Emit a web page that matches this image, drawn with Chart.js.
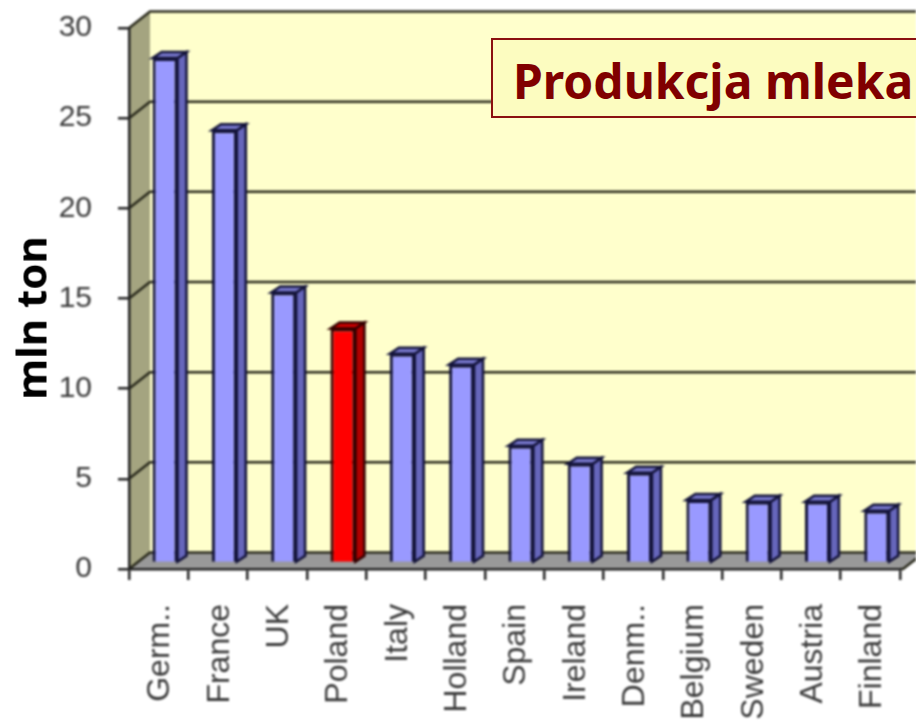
<!DOCTYPE html>
<html>
<head>
<meta charset="utf-8">
<script src="https://cdn.jsdelivr.net/npm/chart.js@4"></script>
<style>
  html, body { margin: 0; padding: 0; background: #fff; width: 916px; height: 721px; overflow: hidden; }
  #milk-chart { position: absolute; left: 0; top: 0; filter: blur(0.8px); }
  #chart-title {
    position: absolute; left: 491px; top: 38px; width: 460px; height: 76px;
    background: #fcfcc0; border: 2px solid #8b1010; color: #800000;
    font: bold 48px "Noto Sans", sans-serif; line-height: 82px; padding-left: 20px;
    white-space: nowrap;
  }
  #axis-title {
    position: absolute; left: 30px; top: 318px; transform: translate(-50%, -50%) rotate(-90deg);
    font: bold 42px "Noto Sans", sans-serif; color: #000; white-space: nowrap;
  }
</style>
</head>
<body>
<canvas id="milk-chart" width="916" height="721"></canvas>
<div id="chart-title">Produkcja mleka</div>
<div id="axis-title">mln ton</div>
<script>
const COUNTRIES = ['Germ..', 'France', 'UK', 'Poland', 'Italy', 'Holland', 'Spain', 'Ireland', 'Denm..', 'Belgium', 'Sweden', 'Austria', 'Finland']
const MILK_MLN_TON = [28, 24, 15, 13, 11.6, 11, 6.5, 5.5, 5, 3.5, 3.4, 3.4, 2.9]
const HIGHLIGHT = 'Poland'

// depth of the fake 3d box and of the bars standing in it
const WALL_DX = 21
const WALL_DY = -16.5
const BAR_SHIFT_X = 6.4
const BAR_SHIFT_Y = -6
const BAR_DX = 9
const BAR_DY = -6

const isHighlight = (idx) => COUNTRIES[idx] === HIGHLIGHT

// labels may overhang the plot here, so the scales must not inset themselves
const noPadding = (scale) => {
  scale.paddingTop = 0
  scale.paddingBottom = 0
  scale.paddingLeft = 0
  scale.paddingRight = 0
}

const box3d = {
  id: 'box3d',
  beforeDraw(chart) {
    const { ctx, chartArea: a, scales: { y } } = chart
    const right = chart.width + 30
    ctx.save()

    // back wall
    ctx.fillStyle = '#ffffcc'
    ctx.fillRect(a.left + WALL_DX, a.top + WALL_DY, right, a.bottom - a.top)

    // left wall
    ctx.fillStyle = '#a4a480'
    ctx.beginPath()
    ctx.moveTo(a.left, a.top)
    ctx.lineTo(a.left + WALL_DX, a.top + WALL_DY)
    ctx.lineTo(a.left + WALL_DX, a.bottom + WALL_DY)
    ctx.lineTo(a.left, a.bottom)
    ctx.closePath()
    ctx.fill()

    // floor
    ctx.fillStyle = '#999999'
    ctx.beginPath()
    ctx.moveTo(a.left, a.bottom)
    ctx.lineTo(a.left + WALL_DX, a.bottom + WALL_DY)
    ctx.lineTo(right, a.bottom + WALL_DY)
    ctx.lineTo(a.right + 3 + WALL_DX, a.bottom + WALL_DY)
    ctx.lineTo(a.right + 3, a.bottom)
    ctx.closePath()
    ctx.fill()

    // grid lines wrap from the axis over the left wall to the back wall
    ctx.strokeStyle = '#2a2a1c'
    ctx.lineWidth = 2.5
    y.ticks.forEach((tick) => {
      const py = y.getPixelForValue(tick.value)
      ctx.beginPath()
      ctx.moveTo(a.left, py)
      ctx.lineTo(a.left + WALL_DX, py + WALL_DY)
      ctx.lineTo(right, py + WALL_DY)
      ctx.stroke()
    })

    // floor front edge continues past the last tick
    ctx.beginPath()
    ctx.moveTo(a.right, a.bottom)
    ctx.lineTo(a.right + 3, a.bottom)
    ctx.lineTo(a.right + 3 + WALL_DX, a.bottom + WALL_DY)
    ctx.stroke()
    ctx.restore()
  },
  beforeDatasetsDraw(chart) {
    const { ctx } = chart
    ctx.save()
    ctx.translate(BAR_SHIFT_X, BAR_SHIFT_Y)
    chart.getDatasetMeta(0).data.forEach((bar, idx) => {
      const left = bar.x - bar.width / 2
      const right = bar.x + bar.width / 2
      const red = isHighlight(idx)
      ctx.lineWidth = 2.5
      ctx.strokeStyle = red ? '#330000' : '#14143a'

      ctx.fillStyle = red ? '#b00000' : '#6666bb'
      ctx.beginPath()
      ctx.moveTo(right, bar.base)
      ctx.lineTo(right + BAR_DX, bar.base + BAR_DY)
      ctx.lineTo(right + BAR_DX, bar.y + BAR_DY)
      ctx.lineTo(right, bar.y)
      ctx.closePath()
      ctx.fill()
      ctx.stroke()

      ctx.fillStyle = red ? '#cc0000' : '#7777cc'
      ctx.beginPath()
      ctx.moveTo(left, bar.y)
      ctx.lineTo(left + BAR_DX, bar.y + BAR_DY)
      ctx.lineTo(right + BAR_DX, bar.y + BAR_DY)
      ctx.lineTo(right, bar.y)
      ctx.closePath()
      ctx.fill()
      ctx.stroke()
    })
  },
  afterDatasetsDraw(chart) {
    chart.ctx.restore()
  },
}

new Chart(document.getElementById('milk-chart').getContext('2d'), {
  type: 'bar',
  data: {
    labels: COUNTRIES,
    datasets: [
      {
        data: MILK_MLN_TON,
        backgroundColor: COUNTRIES.map((c, idx) => (isHighlight(idx) ? '#ff0000' : '#9999ff')),
        borderColor: COUNTRIES.map((c, idx) => (isHighlight(idx) ? '#330000' : '#14143a')),
        borderWidth: 3,
        categoryPercentage: 1,
        barPercentage: 0.42,
        clip: false,
      },
    ],
  },
  options: {
    responsive: false,
    animation: false,
    layout: { autoPadding: false, padding: { top: 28, right: 16, left: 0, bottom: 0 } },
    plugins: { legend: { display: false }, tooltip: { enabled: false } },
    scales: {
      x: {
        afterFit: (scale) => {
          scale.height = 152
          noPadding(scale)
        },
        grid: { drawOnChartArea: false, color: '#222', lineWidth: 2.5, tickLength: 11 },
        border: { color: '#222', width: 2.5 },
        ticks: {
          autoSkip: false,
          minRotation: 90,
          maxRotation: 90,
          padding: 24,
          labelOffset: 2,
          color: '#3a3a3a',
          font: { family: '"Liberation Sans", Arial, sans-serif', size: 32 },
        },
      },
      y: {
        min: 0,
        max: 30,
        afterFit: (scale) => {
          scale.width = 129
          noPadding(scale)
        },
        grid: { drawOnChartArea: false, color: '#222', lineWidth: 2.5, tickLength: 11 },
        border: { color: '#222', width: 2.5 },
        ticks: {
          stepSize: 5,
          padding: 26,
          color: '#3a3a3a',
          font: { family: '"Liberation Sans", Arial, sans-serif', size: 30 },
        },
      },
    },
  },
  plugins: [box3d],
})
</script>
</body>
</html>
